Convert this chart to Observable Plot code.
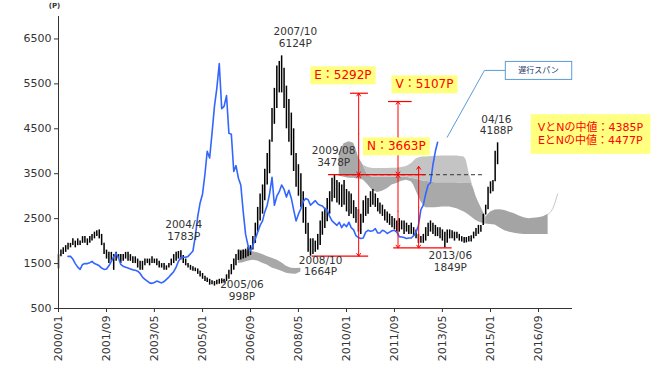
<!DOCTYPE html>
<html><head><meta charset="utf-8">
<script src="https://cdn.jsdelivr.net/npm/d3@7"></script>
<script src="https://cdn.jsdelivr.net/npm/@observablehq/plot@0.6"></script>
<style>
body{margin:0;background:#fff;}
#chart svg{display:block;}
</style></head><body><div id="chart"></div>
<script>
// ---------- data ----------
const priceStart = "2000/01"; // monthly bars
const priceLow = [
 1380,1650,1700,1750,1800,1850,1900,1850,1900,1900,
 1950,1950,1900,1950,2000,2050,2100,2050,1900,1700,
 1600,1500,1550,1350,1550,1600,1500,1550,1600,1550,
 1550,1500,1500,1400,1350,1350,1450,1500,1450,1500,
 1500,1450,1400,1400,1350,1350,1400,1450,1500,1550,
 1600,1580,1500,1450,1400,1350,1330,1320,1260,1200,
 1150,1100,1080,1020,1030,998,1030,1040,1050,1060,
 1100,1150,1250,1350,1450,1570,1580,1600,1620,1650,
 1680,1800,1950,2200,2450,2600,2900,3250,3500,4200,
 4600,4950,5300,5300,4950,4500,4200,3900,3550,3200,
 3000,2750,2400,2150,1750,1664,1700,1750,1800,1900,
 2130,2280,2430,2600,2870,2950,2850,2800,2750,2800,
 2650,2550,2600,2500,2400,2200,2150,2400,2550,2600,
 2750,2800,2750,2650,2600,2550,2450,2400,2350,2300,
 2250,2200,2200,2250,2150,2200,2150,2150,2100,2050,
 1950,1950,1950,2000,2100,2200,2150,2100,2100,2050,
 2000,1849,1950,2050,2050,2000,2050,2000,1980,1950,
 1960,1980,1980,2050,2100,2150,2200,2350,2580,2700,
 3050,3100,3320,3700
];
const priceHigh = [
 1700,1800,1850,1900,1950,1950,2050,2000,2050,2000,
 2100,2100,2050,2100,2150,2200,2230,2250,2150,1950,
 1800,1750,1750,1700,1750,1700,1700,1700,1750,1750,
 1700,1650,1650,1600,1550,1550,1600,1600,1600,1650,
 1600,1600,1550,1500,1500,1450,1500,1600,1700,1750,
 1770,1783,1680,1600,1500,1460,1430,1400,1380,1330,
 1280,1220,1180,1150,1120,1100,1130,1150,1160,1150,
 1250,1350,1480,1600,1700,1800,1780,1800,1820,1870,
 1900,2100,2400,2750,3050,3250,3600,3950,4250,4950,
 5400,5900,6000,6124,5850,5450,5150,4850,4500,3950,
 3700,3500,3100,2750,2400,2050,2050,2000,2150,2450,
 2650,2730,2950,3100,3400,3478,3350,3300,3250,3350,
 3150,3100,3050,2900,2750,2700,2600,2900,3000,2950,
 3100,3150,3050,2950,2850,2800,2700,2650,2600,2550,
 2500,2450,2500,2450,2450,2400,2350,2400,2300,2250,
 2150,2100,2150,2300,2400,2450,2400,2350,2300,2300,
 2250,2200,2250,2250,2230,2200,2200,2150,2100,2080,
 2080,2100,2120,2200,2280,2350,2350,2600,2800,3200,
 3320,3350,4000,4188
];
const laggingStart = "2000/05"; // 遅行スパン, monthly
const laggingSpan = [
 1660,1660,1600,1500,1420,1370,1480,1500,1500,1520,
 1550,1500,1480,1450,1400,1370,1380,1450,1550,1650,
 1730,1620,1480,1440,1420,1400,1380,1360,1350,1330,
 1280,1200,1150,1110,1070,1060,1080,1110,1090,1070,
 1100,1150,1200,1260,1320,1420,1550,1630,1640,1640,
 1660,1720,1780,2100,2550,2850,3050,3500,4000,3850,
 4400,5000,5400,5950,4950,5000,5240,4400,4380,3550,
 3680,3400,3250,2650,2150,1900,1780,1900,2050,2200,
 2350,2450,2650,2800,3050,3420,2800,3000,3100,3250,
 3150,2980,3130,2950,2700,2450,2600,2720,2880,2950,
 2920,2800,2850,2900,2830,2800,2780,2720,2700,2550,
 2450,2400,2350,2420,2300,2380,2320,2420,2300,2250,
 2120,2080,2060,2070,2200,2240,2220,2230,2280,2180,
 2180,2240,2220,2170,2200,2230,2240,2200,2100,2090,
 2080,2060,2070,2070,2120,2200,2350,2700,2800,3050,
 3250,3300,3700,4000,4200
];
// 雲 (cloud) 1
const cloud1Months = ["2006/04","2006/06","2006/08","2006/10","2006/12","2007/02","2007/04","2007/06","2007/08","2007/10","2007/12","2008/02","2008/04","2008/06"];
const cloud1Top    = [1800,1795,1780,1762,1740,1700,1660,1620,1580,1520,1440,1395,1390,1395];
const cloud1Bottom = [1500,1520,1550,1572,1560,1510,1470,1400,1370,1330,1285,1270,1265,1310];
// 雲 2
const cloud2Months = ["2009/10","2009/12","2010/02","2010/04","2010/05","2010/06","2010/07","2010/08","2010/10","2010/12","2011/02","2011/04","2011/06","2011/08","2011/10","2011/12","2012/02","2012/04","2012/05","2012/06","2012/07","2012/08","2012/09","2012/10","2013/02","2013/05","2013/08","2013/11","2014/02","2014/03","2014/04","2014/05","2014/06","2014/07","2014/08","2014/09","2014/10","2014/11"];
const cloud2Top    = [3950,4170,4210,4180,4050,3880,3780,3690,3640,3616,3616,3616,3616,3620,3620,3640,3660,3720,3770,3830,3850,3865,3870,3875,3890,3897,3897,3897,3875,3800,3540,3350,3170,3000,2870,2760,2650,2560];
const cloud2Mid    = [3950,4170,4210,4180,4050,3880,3780,3690,3460,3420,3420,3420,3420,3420,3420,3420,3420,3400,3390,3380,3360,3350,3340,3330,3300,3300,3300,3300,3280,3280,3280,3280,3170,3000,2870,2760,2650,2560];
const cloud2Bottom = [3450,3420,3400,3400,3390,3380,3370,3360,3250,3120,3080,3110,3165,3250,3280,3330,3356,3320,3250,3120,3000,2880,2800,2740,2740,2760,2760,2720,2650,2620,2580,2540,2500,2460,2430,2410,2390,2370];
// 雲 3
const cloud3Months = ["2014/11","2015/01","2015/03","2015/05","2015/07","2015/09","2015/11","2016/01","2016/03","2016/05","2016/07","2016/09","2016/11","2017/01"];
const cloud3Top    = [2530,2650,2690,2700,2680,2640,2610,2560,2520,2500,2510,2520,2540,2600];
const cloud3Bottom = [2380,2370,2360,2290,2230,2200,2175,2160,2150,2145,2145,2145,2145,2145];
const spanTailMonths = ["2017/01","2017/02","2017/03","2017/04","2017/05"];
const spanTail = [2600,2650,2720,2870,3050];

const xTickLabels = ["2000/01","2001/09","2003/05","2005/01","2006/09","2008/05","2010/01","2011/09","2013/05","2015/01","2016/09"];
const yTicks = [500,1500,2500,3500,4500,5500,6500];

// annotations (data coordinates)
const peakLabels = [
 {at:"2008/03/23", v:6540, text:"2007/10\n6124P"},
 {at:"2009/07/22", v:3888, text:"2009/08\n3478P"},
 {at:"2004/05/07", v:2241, text:"2004/4\n1783P"},
 {at:"2006/05/16", v:900,  text:"2005/06\n998P"},
 {at:"2009/02/06", v:1450, text:"2008/10\n1664P"},
 {at:"2013/08/10", v:1557, text:"2013/06\n1849P"},
 {at:"2015/03/16", v:4591, text:"04/16\n4188P"}
];
const targetLabels = [
 {at:"2009/11/16", v:5687, text:"E：5292P"},
 {at:"2012/09/16", v:5486, text:"V：5107P"},
 {at:"2011/09/25", v:4106, text:"N：3663P"}
];
const midLabel = [{at:"2018/06/20", v:4396, text:"VとNの中値：4385P\nEとNの中値：4477P"}];
const spanLabel = [{at:"2016/09", v:5790, text:"遅行スパン"}];
const leader = [{at:"2015/07/08", v:5800},{at:"2014/10/16", v:5800},{at:"2013/07/01", v:4313}];
const measures = [ // vertical E/V/N measurements
 {at:"2010/06/04", from:1664, to:3478},
 {at:"2010/06/04", from:3478, to:5292},
 {at:"2011/10/16", from:1849, to:3478},
 {at:"2011/10/16", from:3478, to:5107},
 {at:"2012/07/04", from:1849, to:3663}
];
const levels = [
 {v:1664, from:"2008/10/21", to:"2010/10/09"},
 {v:1849, from:"2011/08/22", to:"2013/09/01"},
 {v:3478, from:"2009/05/18", to:"2012/09/28"},
 {v:5292, from:"2010/02/20", to:"2010/10/06"},
 {v:5107, from:"2011/06/18", to:"2012/04/12"}
];
const dashedLevel = [{v:3478, from:"2009/09/21", to:"2014/10/27"}];

// ---------- build ----------
const parseYM = s => { const [y, m, d] = s.split("/").map(Number); return new Date(Date.UTC(y, m - 1, d || 1)); };
const addMonths = (s, i) => { const [y, m] = s.split("/").map(Number); return new Date(Date.UTC(y, m - 1 + i, 1)); };

const price = priceLow.map((lo, i) => ({date: addMonths(priceStart, i), low: lo, high: priceHigh[i]}));
const lagging = laggingSpan.map((v, i) => ({date: addMonths(laggingStart, i), value: v}));
const cloud1 = cloud1Months.map((m, i) => ({date: parseYM(m), top: cloud1Top[i], bottom: cloud1Bottom[i]}));
const cloud2 = cloud2Months.map((m, i) => ({date: parseYM(m), top: cloud2Top[i], mid: cloud2Mid[i], bottom: cloud2Bottom[i]}));
const cloud3 = cloud3Months.map((m, i) => ({date: parseYM(m), top: cloud3Top[i], bottom: cloud3Bottom[i]}));
const tail = spanTailMonths.map((m, i) => ({date: parseYM(m), value: spanTail[i]}));
const pos = a => a.map(d => ({...d, date: parseYM(d.at)}));
const lvl = a => a.map(d => ({v: d.v, x1: parseYM(d.from), x2: parseYM(d.to)}));
const arrows = measures.flatMap(d => {
  const mid = (d.from + d.to) / 2, x = parseYM(d.at);
  return [{x, a: mid, b: d.from}, {x, a: mid, b: d.to}];
});
const xStart = parseYM("2000/01"), xEnd = parseYM("2017/11/06");
const fmt = d3.utcFormat("%Y/%m");

const red = "#ff0000";
const svg = Plot.plot({
  width: 668, height: 374,
  marginLeft: 58, marginRight: 96, marginTop: 16, marginBottom: 66,
  style: {fontFamily: "DejaVu Sans, Noto Sans CJK JP, sans-serif", fontSize: "11px", color: "#333", background: "#fff"},
  x: {type: "utc", domain: [xStart, xEnd]},
  y: {domain: [500, 7000]},
  marks: [
    Plot.areaY(cloud1, {x: "date", y1: "bottom", y2: "top", fill: "#a8a8a8"}),
    Plot.areaY(cloud2, {x: "date", y1: "bottom", y2: "mid", fill: "#a9a9a9"}),
    Plot.areaY(cloud2, {x: "date", y1: "mid", y2: "top", fill: "#c4c4c4"}),
    Plot.areaY(cloud3, {x: "date", y1: "bottom", y2: "top", fill: "#a4a4a4"}),
    Plot.line(tail, {x: "date", y: "value", stroke: "#c8c8c8", strokeWidth: 1}),
    Plot.ruleX(price, {x: "date", y1: "low", y2: "high", stroke: "#000", strokeWidth: 1.5}),
    Plot.line(lagging, {x: "date", y: "value", stroke: "#3366ff", strokeWidth: 1.6}),
    Plot.ruleY(lvl(dashedLevel), {y: "v", x1: "x1", x2: "x2", stroke: "#333", strokeDasharray: "4,3"}),
    Plot.ruleY(lvl(levels), {y: "v", x1: "x1", x2: "x2", stroke: red, strokeWidth: 1.2}),
    Plot.arrow(arrows, {x1: "x", x2: "x", y1: "a", y2: "b", stroke: red, strokeWidth: 1, headLength: 5, headAngle: 70}),
    Plot.line(pos(leader), {x: "date", y: "v", stroke: "#5b9bd5", strokeWidth: 1}),
    Plot.ruleX([xStart], {y1: 500, y2: 7000, stroke: "#333"}),
    Plot.ruleY([500], {x1: xStart, x2: xEnd, stroke: "#333"}),
    Plot.axisY({ticks: yTicks, tickFormat: d3.format("d"), tickSize: 4, tickPadding: 3, label: null}),
    Plot.axisX({ticks: xTickLabels.map(parseYM), tickFormat: fmt, tickRotate: -90, tickSize: 4, tickPadding: 3, label: null}),
    Plot.text(["(P)"], {frameAnchor: "top-left", dx: -4, dy: -10.5, fontSize: 7, fontWeight: "bold", textAnchor: "middle", lineAnchor: "middle", fill: "#333"}),
    Plot.text(pos(peakLabels), {x: "date", y: "v", text: "text", fill: "#333", fontSize: 10.5, lineAnchor: "middle", lineHeight: 1.12}),
    Plot.text(pos(targetLabels), {x: "date", y: "v", text: "text", fill: red, fontSize: 12, lineAnchor: "middle"}),
    Plot.text(pos(midLabel), {x: "date", y: "v", text: "text", fill: red, fontSize: 11, lineAnchor: "middle", lineHeight: 1.15}),
    Plot.text(pos(spanLabel), {x: "date", y: "v", text: "text", fill: "#1f3a6e", fontSize: 8, lineAnchor: "middle"})
  ]
});
document.getElementById("chart").append(svg);

function addBoxes(labels, fill, stroke, padX, padY) {
  const keys = new Set(labels.map(d => d.text.replace(/\n/g, "")));
  svg.querySelectorAll("text").forEach(t => {
    if (!keys.has(t.textContent.replace(/\n/g, ""))) return;
    const b = t.getBBox();
    const r = document.createElementNS("http://www.w3.org/2000/svg", "rect");
    r.setAttribute("x", b.x - padX);
    r.setAttribute("y", b.y - padY);
    r.setAttribute("width", b.width + 2 * padX);
    r.setAttribute("height", b.height + 2 * padY);
    r.setAttribute("fill", fill);
    if (stroke) { r.setAttribute("stroke", stroke); r.setAttribute("stroke-width", 1); }
    const tr = t.getAttribute("transform");
    if (tr) r.setAttribute("transform", tr);
    t.parentNode.insertBefore(r, t);
  });
}
addBoxes(targetLabels, "#ffff80", null, 4, 2);
addBoxes(midLabel, "#ffff80", null, 7, 7);
addBoxes(spanLabel, "#ffffff", "#5b9bd5", 13, 4);
</script></body></html>
